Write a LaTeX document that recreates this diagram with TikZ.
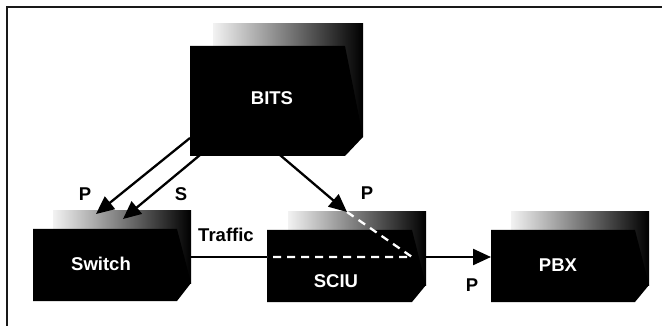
\documentclass[tikz,border=0pt]{standalone}
\usepackage{fontspec}
\setmainfont{Liberation Sans}
\usetikzlibrary{arrows.meta}
\tikzset{
  boxtext/.style={text=white,font=\fontsize{18.5}{21}\selectfont\bfseries,inner sep=0pt},
  labeltext/.style={text=black,font=\fontsize{18.5}{21}\selectfont\bfseries,inner sep=0pt},
  conn/.style={draw=black,line width=2.3pt},
  arr/.style={conn,-{Triangle[length=18pt,width=16pt]}},
  dashwhite/.style={draw=white,line width=2.3pt,dash pattern=on 8pt off 6pt}
}
% #1 L, #2 T, #3 R, #4 B (front face); #5 BL, #6 BT, #7 BR, #8 BB (back gradient)
\newcommand\cubebox[8]{%
  \shade[left color=white!95!black,right color=black] (#5,#6) rectangle (#7,#8);
  \fill[black] (#1,#2) -- (#3,#2) -- (#7,#8) -- (#3,#4) -- (#1,#4) -- cycle;
}
\begin{document}
\begin{tikzpicture}[x=1pt,y=-1pt]
\useasboundingbox (0,0) rectangle (662,326);
% frame
\draw[line width=2.4pt,black!90] (7,326) -- (7,7) -- (662,7);

% boxes
\cubebox{190}{46}{345}{156}{213}{24}{363}{137}
\cubebox{33}{229}{177}{301}{53}{211}{191}{283}
\cubebox{267}{230}{412}{302}{288}{212}{426}{285}
\cubebox{491}{230}{635}{302}{511}{212}{649}{285}

\node[boxtext] (bits) at (272,98) {BITS};
\node[boxtext] (switch) at (101,264) {Switch};
\node[boxtext] (sciu) at (336,281) {SCIU};
\node[boxtext] (pbx) at (558,265) {PBX};

\node[labeltext] (traffic) at (226,235) {Traffic};
\node[labeltext] (lp1) at (85,194) {P};
\node[labeltext] (ls) at (181,194) {S};
\node[labeltext] (lp2) at (367,193) {P};
\node[labeltext] (lp3) at (472,285) {P};

% connector coordinates
\coordinate (bitsP) at (190,138);
\coordinate (bitsS) at (200,155);
\coordinate (bitsR) at (280,155);
\coordinate (swP) at (96,214);
\coordinate (swS) at (123,219);
\coordinate (sciuTop) at (347,212);
\coordinate (sciuJoin) at (412,257);
\coordinate (sciuLeft) at (267,257);
\coordinate (sciuRight) at (426,257);
\coordinate (swRight) at (191,257);
\coordinate (pbxLeft) at (491,257);

\path[arr] (bitsP) -- (swP);
\path[arr] (bitsS) -- (swS);
\path[arr] (bitsR) -- (sciuTop);
\path[conn] (swRight) -- (sciuLeft);
\path[dashwhite] (sciuTop) -- (sciuJoin) -- (sciuLeft);
\path[arr] (sciuRight) -- (pbxLeft);
\end{tikzpicture}
\end{document}
